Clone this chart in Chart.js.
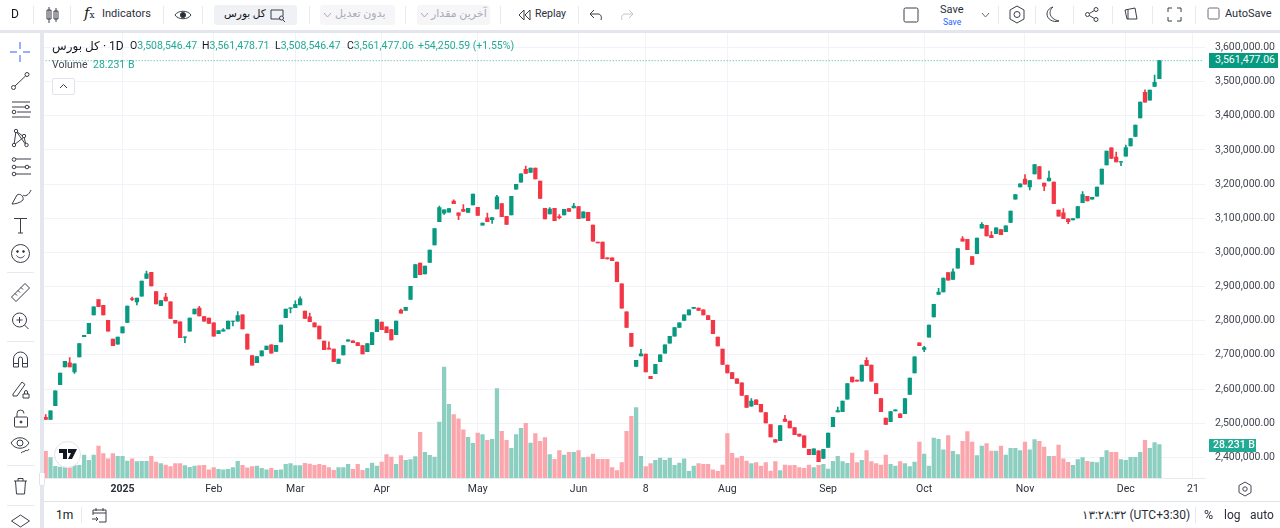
<!DOCTYPE html>
<html>
<head>
<meta charset="utf-8">
<title>کل بورس</title>
<script src="https://cdn.jsdelivr.net/npm/chart.js@4"></script>
<style>
    html, body { margin: 0; padding: 0; width: 1280px; height: 528px; overflow: hidden; background: #fff; }
    body { font-family: Roboto, "DejaVu Sans", sans-serif; color: #131722; position: relative; }
    canvas { position: absolute; left: 0; top: 0; }
    .t { position: absolute; white-space: nowrap; font-size: 10.5px; line-height: 14px; }
    .box { position: absolute; }
    .strip { position: absolute; background: #e4e6ee; }
    .div { position: absolute; width: 1px; background: #e8e9ee; }
    .num { color: #22ab94; }
    svg { position: absolute; fill: none; stroke: #3a3e49; stroke-width: 1; }
</style>
</head>
<body>
<canvas id="mainChart" width="1280" height="528"></canvas>

<!-- نوار بالا -->
<div class="box" style="left:0;top:0;width:1280px;height:30px;background:#fff"></div>
<div class="strip" style="left:0;top:30px;width:1280px;height:3px"></div>
<div class="strip" style="left:40px;top:30px;width:4px;height:498px"></div>
<div class="box" style="left:0;top:33px;width:40px;height:495px;background:#fff"></div>
<div class="box" style="left:44px;top:501px;width:1236px;height:27px;background:#fff;border-top:1px solid #e0e3eb;box-sizing:border-box"></div>

<div class="t" style="left:11px;top:7px;font-size:12px">D</div>
<div class="div" style="left:33px;top:6px;height:18px"></div>
<svg style="left:46px;top:6px" width="14" height="18"><path d="M3 1v16M1 4h4v9H1zM10 2v14M8 5h4v8H8z"/></svg>
<div class="div" style="left:70px;top:6px;height:18px"></div>
<div class="t" style="left:84px;top:6px;font-size:15px;font-family:'DejaVu Serif',serif;font-style:italic">f<span style="font-size:9px;font-style:normal">x</span></div>
<div class="t" style="left:102px;top:7px;font-size:11px;color:#2a2e39">Indicators</div>
<div class="div" style="left:163px;top:6px;height:18px"></div>
<svg style="left:174px;top:7px" width="18" height="16"><path d="M1 8c3-5 13-5 16 0c-3 5-13 5-16 0z"/><circle cx="9" cy="8" r="2.6" fill="#2a2e39"/></svg>
<div class="div" style="left:202px;top:6px;height:18px"></div>
<div class="box" style="left:214px;top:5px;width:83px;height:20px;background:#f0f1f4;border-radius:3px"></div>
<div class="t" style="left:224px;top:7px;font-size:10.5px;font-weight:500">کل بورس</div>
<svg style="left:269px;top:8px" width="17" height="14"><path d="M11 11H2V2h12v6"/><circle cx="12.5" cy="10" r="2"/><path d="M14 12l2 2"/></svg>
<div class="div" style="left:309px;top:6px;height:18px"></div>
<div class="box" style="left:320px;top:5px;width:75px;height:20px;background:#f6f6f8;border-radius:3px"></div>
<div class="t" style="left:335px;top:7px;font-size:11px;color:#a9acb5">بدون تعدیل</div>
<svg style="left:323px;top:12px;stroke:#a9acb5" width="9" height="7"><path d="M1 1l3.5 4L8 1"/></svg>
<div class="div" style="left:405px;top:6px;height:18px"></div>
<div class="box" style="left:417px;top:5px;width:73px;height:20px;background:#f6f6f8;border-radius:3px"></div>
<div class="t" style="left:431px;top:7px;font-size:11px;color:#a9acb5">آخرین مقدار</div>
<svg style="left:420px;top:12px;stroke:#a9acb5" width="9" height="7"><path d="M1 1l3.5 4L8 1"/></svg>
<div class="div" style="left:500px;top:6px;height:18px"></div>
<svg style="left:518px;top:8px" width="14" height="14"><path d="M6 2L1 7l5 5zM12 2L7 7l5 5z"/></svg>
<div class="t" style="left:535px;top:7px;font-size:10.5px;color:#2a2e39">Replay</div>
<div class="div" style="left:578px;top:6px;height:18px"></div>
<svg style="left:589px;top:8px" width="14" height="14"><path d="M5 2L1 6l4 4M1 6h8c3 0 4 3 3 6"/></svg>
<svg style="left:620px;top:8px;stroke:#c4c6cd" width="14" height="14"><path d="M9 2l4 4l-4 4M13 6H5c-3 0-4 3-3 6"/></svg>

<svg style="left:903px;top:7px" width="16" height="16"><rect x="1" y="1" width="14" height="14" rx="1.5"/></svg>
<div class="t" style="left:940px;top:3px;font-size:11px;color:#2a2e39">Save</div>
<div class="t" style="left:943px;top:15px;font-size:8.5px;color:#2962ff">Save</div>
<svg style="left:981px;top:12px;stroke:#6a6d78" width="9" height="7"><path d="M1 1l3.5 4L8 1"/></svg>
<div class="div" style="left:998px;top:6px;height:18px"></div>
<svg style="left:1008px;top:5px" width="18" height="20"><path d="M9 1l7 4v9l-7 4l-7-4V5z"/><circle cx="9" cy="9.5" r="3"/></svg>
<div class="div" style="left:1035px;top:6px;height:18px"></div>
<svg style="left:1045px;top:6px" width="16" height="17"><path d="M8 1C3 5 4 13 14 15C8 17 2 13 2 8C2 5 4 2 8 1z"/></svg>
<div class="div" style="left:1073px;top:6px;height:18px"></div>
<svg style="left:1084px;top:6px" width="16" height="17"><circle cx="12" cy="3.5" r="2"/><circle cx="3.5" cy="8.5" r="2"/><circle cx="12" cy="13.5" r="2"/><path d="M5.3 7.5l5-3M5.3 9.500l5 3"/></svg>
<div class="div" style="left:1112px;top:6px;height:18px"></div>
<svg style="left:1124px;top:7px" width="15" height="15"><path d="M1 3l10-2l2 11H3zM4 3v9"/></svg>
<div class="div" style="left:1152px;top:6px;height:18px"></div>
<svg style="left:1167px;top:7px" width="15" height="15"><path d="M1 5V1h4M10 1h4v4M14 10v4h-4M5 14H1v-4"/></svg>
<div class="div" style="left:1195px;top:6px;height:18px"></div>
<svg style="left:1207px;top:7px;stroke:#6a6d78" width="13" height="13"><rect x="1" y="1" width="11" height="11" rx="1.5"/></svg>
<div class="t" style="left:1225px;top:7px;font-size:11px;color:#2a2e39">AutoSave</div>

<!-- ابزارهای سمت چپ -->
<svg style="left:9px;top:41px;stroke:#2962ff" width="22" height="22"><path d="M11 1v7M11 14v7M1 11h7M14 11h7"/></svg>
<svg style="left:10px;top:71px" width="21" height="20"><circle cx="17" cy="3.5" r="2"/><circle cx="3.5" cy="16.5" r="2"/><path d="M5 15L15.5 5"/></svg>
<svg style="left:10px;top:100px" width="22" height="20"><path d="M2 2h18M2 7h18M7 12h14M2 17h18"/><circle cx="17" cy="7" r="1.8" fill="#fff"/><circle cx="4" cy="12" r="1.8" fill="#fff"/></svg>
<svg style="left:10px;top:128px" width="21" height="20"><path d="M6 3L4 17M6 3l8 6M6 3l10 14M4 17l10-8M14 9l2 8" /><circle cx="6" cy="3" r="1.7" fill="#fff"/><circle cx="4" cy="17" r="1.7" fill="#fff"/><circle cx="14" cy="8" r="1.7" fill="#fff"/><circle cx="16.5" cy="17" r="1.7" fill="#fff"/></svg>
<svg style="left:10px;top:157px" width="22" height="20"><path d="M4 2h17M4 10h17M4 17h17"/><circle cx="4" cy="2.5" r="1.8" fill="#fff"/><circle cx="4" cy="10" r="1.8" fill="#fff"/><circle cx="4" cy="17" r="1.8" fill="#fff"/><circle cx="17" cy="10" r="1.8" fill="#fff"/></svg>
<svg style="left:10px;top:187px" width="24" height="20"><path d="M2 17L7 8c3-2 7 1 6 5c-3 3-8 4-11 4zM13 8c2 2 6 0 8-5"/></svg>
<svg style="left:13px;top:216px" width="15" height="18"><path d="M1 2.5h13M7.5 2.5V17M5 17h5"/></svg>
<svg style="left:10px;top:243px" width="21" height="21"><circle cx="10.5" cy="10.5" r="9"/><circle cx="7.5" cy="8.5" r=".9" fill="#2a2e39"/><circle cx="13.5" cy="8.5" r=".9" fill="#2a2e39"/><path d="M6.5 12.5c2 3 6 3 8 0"/></svg>
<div class="div" style="left:7px;top:272px;width:27px;height:1px"></div>
<svg style="left:10px;top:282px" width="21" height="21"><path d="M1.5 15L15 1.5L19.5 6L6 19.5zM5 11.5l2 2M8 8.5l2 2M11 5.5l2 2"/></svg>
<svg style="left:11px;top:311px" width="20" height="20"><circle cx="8.5" cy="9" r="7"/><path d="M8.5 6v6M5.5 9h6M13.5 14l4 4"/></svg>
<div class="div" style="left:7px;top:341px;width:27px;height:1px"></div>
<svg style="left:12px;top:351px" width="17" height="18"><path d="M1.5 16V8a7 7 0 0 1 14 0v8h-5V8a2 2 0 0 0-4 0v8zM1.5 12.5h5M10.500 12.500h5"/></svg>
<svg style="left:11px;top:379px" width="20" height="20"><path d="M2 15L11 3l3 2.500L6 17H2zM12 15h6v4h-6zM13.500 15v-2a1.500 1.500 0 0 1 3 0v2"/></svg>
<svg style="left:13px;top:409px" width="16" height="19"><rect x="1.500" y="8" width="13" height="10" rx="1"/><path d="M4 8V4.500a3.500 3.500 0 0 1 7 0"/><circle cx="8" cy="13" r="1" fill="#2a2e39"/></svg>
<svg style="left:10px;top:436px" width="22" height="20"><path d="M1 7c4-7 14-7 18 0c-4 7-14 7-18 0z"/><circle cx="10" cy="7" r="3"/><path d="M11 17c2-2 4-1 5-3c1 1 2 1 3-1"/></svg>
<div class="div" style="left:7px;top:465px;width:27px;height:1px"></div>
<svg style="left:13px;top:477px" width="15" height="18"><path d="M1 4h13M5 4V1.500h5V4M2.500 4l1 13h8l1-13"/></svg>
<div class="div" style="left:7px;top:505px;width:27px;height:1px"></div>
<svg style="left:10px;top:513px" width="21" height="15"><path d="M10.500 2l9 6l-9 6l-9-6z"/></svg>
<div class="box" style="left:39px;top:472px;width:6px;height:14px;background:#fff;border:1px solid #e0e3eb;border-radius:2px;box-sizing:border-box"></div>

<!-- افسانه -->
<div class="t" style="left:52px;top:39px;font-size:12px">کل بورس</div>
<div class="t" style="left:100px;top:39px;font-size:12px">&nbsp;· 1D</div>
<div class="t" style="left:130px;top:39px">O<span class="num">3,508,546.47</span></div>
<div class="t" style="left:202px;top:39px">H<span class="num">3,561,478.71</span></div>
<div class="t" style="left:275px;top:39px">L<span class="num">3,508,546.47</span></div>
<div class="t" style="left:347px;top:39px">C<span class="num">3,561,477.06</span></div>
<div class="t num" style="left:418px;top:39px">+54,250.59 (+1.55%)</div>
<div class="t" style="left:52px;top:58px;color:#434651">Volume</div>
<div class="t num" style="left:93px;top:58px">28.231 B</div>
<div class="box" style="left:52px;top:78px;width:23px;height:17px;background:#fff;border:1px solid #e0e3eb;border-radius:2px;box-sizing:border-box"></div>
<svg style="left:59px;top:83px" width="9" height="6"><path d="M1 5l3.500-3.500L8 5"/></svg>

<!-- برچسب‌های قیمت -->
<div class="box" style="left:1209px;top:53px;width:69px;height:15px;background:#089981"></div>
<div class="t" style="left:1215px;top:53px;color:#fff">3,561,477.06</div>
<div class="box" style="left:1209px;top:439px;width:47px;height:13px;background:#22ab94"></div>
<div class="t" style="left:1213px;top:438px;color:#fff;font-weight:500">28.231 B</div>

<!-- لوگو -->
<div class="box" style="left:54px;top:441px;width:27px;height:27px;background:#fff;border:1px solid #e0e3eb;border-radius:50%;box-sizing:border-box"></div>
<svg style="left:59px;top:449px;fill:#131722;stroke:none" width="19" height="11"><path d="M0 0h8v10H4V4H0zM9 0h9l-5 10H9l3-6H9z"/></svg>

<!-- نوار پایین -->
<svg style="left:1237px;top:481px;stroke:#434651" width="16" height="16"><path d="M8 1l6 3.500v7L8 15l-6-3.500v-7z"/><circle cx="8" cy="8" r="2.200"/></svg>
<div class="t" style="left:56px;top:508px;font-size:12px">1m</div>
<div class="div" style="left:81px;top:507px;height:16px"></div>
<svg style="left:91px;top:507px" width="17" height="16"><path d="M2 8V3h13v12H8M5 1v3M12 1v3M2 6h13M1 12h6M5 10l2 2l-2 2"/></svg>
<div class="t" dir="ltr" style="left:1082px;top:508px;font-size:12px;color:#2a2e39">۱۳:۲۸:۳۲ (UTC+3:30)</div>
<div class="div" style="left:1195px;top:507px;height:16px"></div>
<div class="t" style="left:1204px;top:508px;font-size:12.500px;color:#2a2e39">%</div>
<div class="t" style="left:1224px;top:508px;font-size:12px;color:#2a2e39">log</div>
<div class="t" style="left:1250px;top:508px;font-size:12px;color:#2a2e39">auto</div>

<script>
// همه قیمت‌ها به هزار
const opens = [
    2517,2511,2551,2613,2665,2677,2650,2694,2753,2762,
    2817,2862,2845,2801,2746,2731,2764,2795,2865,2855,
    2872,2924,2942,2885,2844,2869,2855,2801,2797,2751,
    2769,2820,2837,2812,2808,2794,2762,2769,2776,2798,
    2799,2817,2761,2698,2677,2697,2715,2729,2710,2738,
    2809,2836,2838,2846,2828,2811,2794,2784,2740,2720,
    2717,2675,2700,2740,2741,2736,2727,2709,2730,2768,
    2796,2782,2774,2759,2831,2830,2862,2926,2969,2937,
    2971,3022,3090,3115,3118,3150,3116,3126,3117,3139,
    3132,3080,3101,3096,3127,3143,3106,3110,3185,3206,
    3243,3234,3247,3209,3129,3113,3129,3105,3110,3128,
    3130,3134,3101,3117,3080,3030,3030,2984,2984,2972,
    2908,2826,2763,2666,2697,2702,2637,2645,2680,2705,
    2734,2755,2780,2801,2817,2836,2837,2832,2815,2801,
    2752,2717,2670,2648,2630,2618,2581,2550,2568,2555,
    2531,2496,2452,2449,2512,2506,2487,2468,2463,2423,
    2408,2419,2397,2429,2490,2533,2534,2570,2635,2626,
    2623,2684,2670,2616,2572,2515,2504,2536,2527,2528,
    2584,2647,2735,2716,2752,2811,2877,2884,2941,2921,
    2954,3040,3038,2988,2996,3071,3079,3050,3055,3067,
    3061,3088,3156,3192,3215,3192,3230,3251,3203,3209,
    3206,3124,3116,3098,3095,3101,3146,3164,3156,3165,
    3200,3256,3306,3279,3264,3282,3312,3340,3394,3469,
    3446,3486,3508.546
];
const closes = [
    2511,2536,2595,2647,2681,2665,2674,2733,2757,2792,
    2841,2841,2817,2769,2727,2752,2782,2843,2862,2866,
    2916,2937,2902,2849,2859,2858,2807,2793,2750,2753,
    2808,2834,2814,2799,2792,2755,2771,2773,2799,2799,
    2815,2776,2717,2670,2695,2712,2726,2705,2728,2787,
    2834,2838,2848,2864,2807,2797,2782,2747,2715,2717,
    2680,2688,2727,2744,2736,2727,2703,2733,2765,2803,
    2774,2765,2744,2799,2822,2839,2901,2964,2935,2960,
    3007,3070,3131,3125,3128,3143,3108,3120,3129,3171,
    3108,3086,3090,3102,3163,3105,3082,3164,3199,3230,
    3231,3247,3215,3158,3098,3127,3093,3102,3126,3120,
    3136,3099,3119,3093,3033,3028,2982,2981,2976,2914,
    2837,2780,2725,2684,2703,2650,2630,2672,2700,2729,
    2754,2780,2794,2817,2832,2839,2830,2817,2803,2762,
    2726,2672,2647,2630,2616,2581,2546,2565,2554,2533,
    2501,2460,2444,2493,2505,2486,2466,2462,2429,2408,
    2425,2387,2423,2471,2517,2537,2565,2616,2621,2623,
    2670,2668,2623,2586,2534,2496,2534,2539,2516,2572,
    2632,2694,2727,2721,2787,2848,2884,2925,2919,2943,
    3011,3033,3008,2965,3042,3082,3048,3043,3072,3052,
    3078,3121,3169,3201,3200,3210,3257,3215,3194,3218,
    3143,3106,3099,3090,3099,3134,3169,3151,3161,3191,
    3244,3297,3275,3265,3266,3307,3333,3373,3440,3440,
    3475,3498,3561.477
];
const highs = [
    2525,2536,2595,2647,2681,2692,2674,2733,2757,2792,
    2841,2862,2845,2801,2746,2752,2782,2843,2869,2866,
    2916,2945,2942,2885,2859,2880,2855,2801,2797,2753,
    2808,2834,2842,2812,2808,2794,2771,2777,2799,2799,
    2827,2817,2761,2698,2695,2712,2726,2729,2728,2787,
    2834,2838,2858,2870,2828,2822,2794,2784,2740,2738,
    2717,2688,2727,2744,2741,2736,2727,2733,2765,2803,
    2796,2782,2774,2799,2834,2839,2901,2964,2969,2960,
    3007,3070,3136,3125,3128,3154,3116,3140,3129,3171,
    3132,3086,3115,3102,3167,3143,3106,3164,3199,3230,
    3253,3247,3247,3209,3129,3131,3129,3111,3126,3128,
    3144,3134,3119,3117,3080,3030,3030,2984,2984,2972,
    2908,2826,2763,2684,2716,2702,2637,2672,2700,2729,
    2754,2780,2794,2817,2832,2839,2837,2832,2815,2801,
    2752,2717,2670,2648,2630,2618,2581,2572,2568,2555,
    2531,2496,2452,2493,2523,2506,2487,2468,2463,2423,
    2425,2419,2423,2471,2517,2547,2565,2616,2635,2626,
    2670,2692,2670,2616,2572,2515,2534,2539,2527,2572,
    2632,2694,2735,2725,2787,2848,2895,2925,2941,2952,
    3011,3046,3038,2988,3042,3087,3079,3061,3072,3067,
    3078,3121,3169,3201,3228,3210,3257,3251,3203,3238,
    3206,3124,3128,3098,3099,3134,3178,3164,3161,3191,
    3244,3297,3306,3294,3266,3314,3333,3373,3440,3476,
    3475,3519,3561.479
];
const lows = [
    2511,2511,2551,2613,2665,2665,2646,2694,2753,2762,
    2817,2841,2817,2769,2727,2731,2764,2795,2859,2846,
    2872,2924,2902,2849,2844,2858,2807,2793,2750,2736,
    2769,2820,2814,2799,2792,2755,2762,2769,2776,2785,
    2799,2776,2717,2670,2677,2697,2715,2705,2710,2738,
    2809,2823,2838,2846,2807,2797,2782,2747,2715,2717,
    2680,2675,2700,2740,2736,2727,2703,2709,2730,2768,
    2774,2765,2744,2759,2822,2830,2862,2926,2935,2937,
    2971,3022,3090,3111,3118,3143,3096,3120,3117,3139,
    3108,3080,3090,3085,3127,3105,3082,3110,3185,3206,
    3231,3234,3215,3158,3098,3113,3093,3098,3110,3120,
    3130,3099,3101,3093,3033,3028,2982,2981,2976,2914,
    2837,2780,2725,2666,2697,2650,2630,2645,2680,2705,
    2734,2755,2780,2801,2817,2836,2830,2817,2803,2762,
    2726,2672,2647,2630,2616,2581,2546,2550,2554,2533,
    2501,2460,2444,2449,2505,2486,2466,2462,2429,2408,
    2408,2387,2397,2429,2490,2533,2534,2570,2621,2623,
    2623,2668,2623,2586,2534,2496,2504,2536,2516,2528,
    2584,2647,2727,2709,2752,2811,2877,2884,2919,2921,
    2954,3033,3008,2965,2996,3071,3048,3043,3055,3052,
    3061,3088,3156,3192,3200,3183,3230,3215,3181,3209,
    3143,3106,3099,3084,3095,3101,3146,3151,3156,3165,
    3200,3256,3275,3265,3254,3282,3312,3340,3394,3440,
    3446,3486,3508.546
];
// حجم به میلیارد
const volumes = [
    22.5,17.2,9.9,9.3,8.7,8.5,10.4,10.7,19.4,14.9,
    19.4,27,20.6,16.3,20.6,18.3,18.3,14.4,16.3,13.8,
    14.1,14.1,18.3,13.5,12.1,11,9.6,12.1,12.1,10.4,
    9,10.1,10.4,10.7,6.8,8.7,7.3,7,7.3,8.7,
    14.1,10.7,8.5,9.6,10.1,8.2,7,8.2,6.5,7,
    11.5,12.1,10.4,10.4,12.4,11.8,10.7,11.5,10.7,8.7,
    6.5,8.7,8.7,11.5,7.3,11.5,6.5,8.2,12.7,10.1,
    13.5,19.7,17.7,11.5,18.9,14.9,15.5,18,38.6,21.7,
    19.2,17.7,47.3,93.8,62.3,53.5,50.1,40.6,34.4,29.3,
    38,36.6,31.8,32.7,75.5,39.4,31.8,25.1,36.6,42,
    46.2,29.6,37.5,31,34.1,19.7,15.8,23.1,19.4,21.7,
    21.7,23.1,17.2,17.7,20.3,15.8,15.8,15.8,8.7,6.2,
    13,39.4,52.1,59.4,18.3,9.6,12.1,14.9,16.9,14.9,
    16.9,10.7,12.7,16.1,5.6,10.1,12.1,11.5,11.5,6.8,
    5.6,11,37.5,20.8,16.9,18.3,14.4,12.1,13,10.1,
    13,5.9,13.8,6.2,11,10.4,10.7,8.7,8.2,11,
    8.7,10.7,11.5,7.6,14.1,18.3,13.8,12.4,21.1,13,
    14.9,23.1,13.8,12.1,11,19.4,11.5,10.1,13.8,12.1,
    9.6,13.5,30.4,20.3,10.1,33.8,32.7,23.9,35.8,22.5,
    19.7,31,39.2,30.4,18.9,27,29,22.8,22.8,27,
    19.4,25.1,25.1,23.1,30.4,23.7,32.4,31,26.2,18.3,
    18.3,27.9,16.1,13.2,10.7,15.5,17.2,14.1,13.5,13,
    17.5,23.1,21.7,21.7,15.5,14.9,17.5,17.5,21.7,31.8,
    25.1,29.9,28.231
];

const priceTicks = [3600, 3500, 3400, 3300, 3200, 3100, 3000, 2900, 2800, 2700, 2600, 2500, 2400];
const dateTickIndexes = [16, 35, 52, 70, 90, 111, 125, 142, 163, 183, 204, 225, 239];
const dateTickNames = ['2025', 'Feb', 'Mar', 'Apr', 'May', 'Jun', '8', 'Aug', 'Sep', 'Oct', 'Nov', 'Dec', '21'];
const slotCount = 242;

const UP = '#089981';
const DOWN = '#f23645';
const UP_VOL = '#8ccfc1';
const DOWN_VOL = '#fba6ac';
const GRID = '#f1f3f8';

function buildLabels() {
    const labels = new Array(slotCount).fill('');
    dateTickIndexes.forEach((idx, i) => { labels[idx] = dateTickNames[i]; });
    return labels;
}

function drawMainChart() {
    const isUp = i => closes[i] >= opens[i];
    const lastClose = closes[closes.length - 1] * 1000;

    new Chart(document.getElementById('mainChart'), {
        type: 'bar',
        data: {
            labels: buildLabels(),
            datasets: [
                {
                    label: 'body',
                    data: opens.map((o, i) => [o * 1000, closes[i] * 1000]),
                    backgroundColor: opens.map((o, i) => isUp(i) ? UP : DOWN),
                    barThickness: 3.6,
                    yAxisID: 'y',
                    order: 1
                },
                {
                    label: 'wick',
                    data: lows.map((l, i) => [l * 1000, highs[i] * 1000]),
                    backgroundColor: lows.map((l, i) => isUp(i) ? UP : DOWN),
                    barThickness: 1,
                    yAxisID: 'y',
                    order: 2
                },
                {
                    label: 'last',
                    type: 'line',
                    data: new Array(slotCount).fill(lastClose),
                    borderColor: 'rgba(8,153,129,0.75)',
                    borderWidth: 1,
                    borderDash: [1, 2],
                    pointRadius: 0,
                    yAxisID: 'y',
                    order: 3
                },
                {
                    label: 'Volume',
                    data: volumes,
                    backgroundColor: volumes.map((v, i) => isUp(i) ? UP_VOL : DOWN_VOL),
                    barThickness: 3.6,
                    yAxisID: 'vol',
                    order: 4
                }
            ]
        },
        options: {
            responsive: false,
            animation: false,
            devicePixelRatio: 1,
            layout: { padding: { left: 43.3, top: 33, right: 0, bottom: 28 } },
            datasets: { bar: { grouped: false } },
            plugins: { legend: { display: false }, tooltip: { enabled: false } },
            scales: {
                x: {
                    offset: true,
                    grid: { color: GRID, offset: false, drawTicks: false },
                    border: { color: '#e8eaf0' },
                    ticks: {
                        autoSkip: false,
                        maxRotation: 0,
                        padding: 5,
                        color: '#2a2e39',
                        font: c => ({ family: 'Roboto', size: 10.5, weight: c.index === 0 ? '700' : '400' })
                    },
                    afterBuildTicks: scale => {
                        scale.ticks = dateTickIndexes.map(v => ({ value: v }));
                    },
                    afterFit: scale => { scale.height = 22; }
                },
                y: {
                    position: 'right',
                    min: 2339400,
                    max: 3642500,
                    grid: { color: GRID, drawTicks: false },
                    border: { display: false },
                    ticks: {
                        padding: 10,
                        color: '#434651',
                        font: { family: 'Roboto', size: 10.5 },
                        callback: v => v.toLocaleString('en-US', { minimumFractionDigits: 2 })
                    },
                    afterBuildTicks: scale => {
                        scale.ticks = priceTicks.map(v => ({ value: v * 1000 }));
                    },
                    afterFit: scale => { scale.width = 75; }
                },
                vol: {
                    display: false,
                    min: 0,
                    max: 376
                }
            }
        }
    });
}

drawMainChart();
</script>
</body>
</html>
